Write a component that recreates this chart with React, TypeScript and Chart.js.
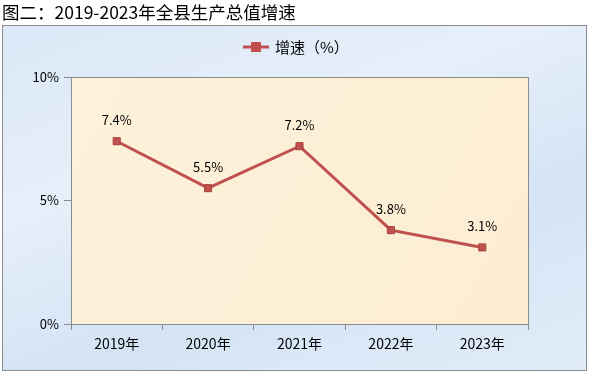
import React, { useEffect, useRef } from "react";
import { Chart, registerables } from "chart.js";

Chart.register(...registerables);

const categories = ["2019年", "2020年", "2021年", "2022年", "2023年"];
const growth = [7.4, 5.5, 7.2, 3.8, 3.1];
const seriesName = "增速（%）";
const titleText = "图二：2019-2023年全县生产总值增速";

const LINE = "#c0504d";
const FONT = "'Noto Sans CJK SC', 'Liberation Sans', sans-serif";

export default function App() {
  const ref = useRef<HTMLCanvasElement | null>(null);

  useEffect(() => {
    if (!ref.current) return;
    const plotBg = {
      id: "plotBg",
      beforeDraw(chart: any) {
        const { ctx, chartArea: a } = chart;
        ctx.save();
        const g = ctx.createLinearGradient(a.left, a.top, a.right, a.bottom);
        g.addColorStop(0, "#fdf1da");
        g.addColorStop(1, "#fcedd3");
        ctx.fillStyle = g;
        ctx.fillRect(a.left, a.top, a.right - a.left, a.bottom - a.top);
        ctx.restore();
      },
      afterDatasetsDraw(chart: any) {
        const { ctx, chartArea: a } = chart;
        ctx.save();
        ctx.strokeStyle = "#8c8c8c";
        ctx.lineWidth = 1;
        ctx.strokeRect(Math.round(a.left) + 0.5, Math.round(a.top) + 0.5, Math.round(a.right - a.left), Math.round(a.bottom - a.top));
        // data labels
        const meta = chart.getDatasetMeta(0);
        ctx.fillStyle = "#000";
        ctx.font = `13px ${FONT}`;
        ctx.textAlign = "center";
        ctx.textBaseline = "middle";
        meta.data.forEach((pt: any, i: number) => {
          ctx.fillText(growth[i].toFixed(1) + "%", pt.x, pt.y - 21);
        });
        // legend
        const cx = 300 - 3;
        const ly = 47 - 26;
        ctx.strokeStyle = LINE;
        ctx.lineWidth = 3;
        ctx.beginPath();
        ctx.moveTo(cx - 57, ly);
        ctx.lineTo(cx - 31, ly);
        ctx.stroke();
        ctx.fillStyle = LINE;
        ctx.fillRect(cx - 49, ly - 5, 10, 10);
        ctx.fillStyle = "#000";
        ctx.textAlign = "left";
        ctx.font = `15px ${FONT}`;
        ctx.fillText(seriesName, cx - 25, ly);
        ctx.restore();
      },
    };

    const chart = new Chart(ref.current, {
      type: "line",
      data: {
        labels: categories,
        datasets: [
          {
            label: seriesName,
            data: growth,
            borderColor: LINE,
            borderWidth: 3,
            backgroundColor: LINE,
            pointStyle: "rect",
            pointRadius: 5,
            pointBorderColor: "#a8413e",
            pointBorderWidth: 1,
            tension: 0,
          },
        ],
      },
      options: {
        responsive: false,
        animation: false,
        layout: { padding: { top: 51, right: 58, left: 0, bottom: 0 } },
        plugins: { legend: { display: false }, tooltip: { enabled: false } },
        scales: {
          x: {
            offset: true,
            grid: { offset: true, drawOnChartArea: false, drawTicks: true, tickLength: 6, color: "#8c8c8c" },
            border: { color: "#8c8c8c" },
            ticks: { color: "#000", font: { family: FONT, size: 14 }, padding: 5 },
            afterFit(scale: any) {
              scale.height = 46;
            },
          },
          y: {
            min: 0,
            max: 10,
            grid: { drawOnChartArea: false, drawTicks: true, tickLength: 7, color: "#8c8c8c" },
            border: { color: "#8c8c8c" },
            ticks: {
              stepSize: 5,
              color: "#000",
              font: { family: FONT, size: 13 },
              padding: 5,
              callback: (v: any) => `${v}%`,
            },
            afterFit(scale: any) {
              scale.width = 68;
            },
          },
        },
      },
      plugins: [plotBg],
    });
    return () => chart.destroy();
  }, []);

  return (
    <div style={{ position: "fixed", left: 0, top: 0, width: 593, height: 376, background: "#fff" }}>
      <div
        style={{
          position: "absolute",
          left: 2,
          top: 1,
          fontFamily: FONT,
          fontSize: 17.5,
          fontWeight: 400,
          color: "#000",
          lineHeight: "22px",
          whiteSpace: "nowrap",
        }}
      >
        {titleText}
      </div>
      <div
        style={{
          position: "absolute",
          left: 2,
          top: 25,
          width: 583,
          height: 344,
          border: "1px solid #8c8c8c",
          background: "linear-gradient(160deg, #dbe8f7 0%, #e6eff9 35%, #d4e4f5 65%, #e1ecf8 100%)",
        }}
      >
        <canvas ref={ref} width={583} height={344} style={{ display: "block" }} />
      </div>
    </div>
  );
}
